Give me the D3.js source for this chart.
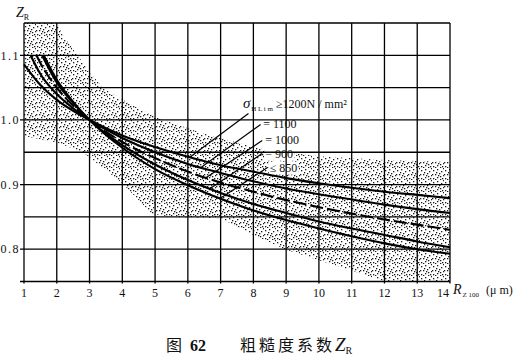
<!DOCTYPE html>
<html>
<head>
<meta charset="utf-8">
<script src="https://cdn.jsdelivr.net/npm/d3@7"></script>
<style>
  body { margin: 0; background: #fff; }
  text { font-family: "Liberation Serif", "DejaVu Serif", serif; fill: #111; }
  .cap { font-family: "Noto Sans CJK SC", sans-serif; }
</style>
</head>
<body>
<div id="chart"></div>
<script>
// data
var xTicks = [1, 2, 3, 4, 5, 6, 7, 8, 9, 10, 11, 12, 13, 14];
var yTicks = [0.8, 0.9, 1.0, 1.1];
var yTickLabels = ["0.8", "0.9", "1.0", "1.1"];
var gridY = [0.75, 0.8, 0.85, 0.9, 0.95, 1.0, 1.05, 1.1, 1.15];

// curves Z_R vs R_Z100, one per sigma_Hlim
var seriesNames = ["1200", "1100", "1000", "900", "850"];
var rz1200 = [1, 1.5, 2, 2.5, 3, 4, 5, 6, 7, 8, 9, 10, 11, 12, 13, 14];
var zr1200 = [1.086, 1.054, 1.031, 1.014, 1.000, 0.976, 0.958, 0.943, 0.930, 0.920, 0.910, 0.902, 0.895, 0.889, 0.884, 0.879];
var rz1100 = [1.2, 1.5, 2, 2.5, 3, 4, 5, 6, 7, 8, 9, 10, 11, 12, 13, 14];
var zr1100 = [1.100, 1.071, 1.040, 1.018, 1.000, 0.972, 0.950, 0.932, 0.918, 0.905, 0.894, 0.885, 0.877, 0.869, 0.862, 0.856];
var rz1000 = [1.38, 1.5, 2, 2.5, 3, 4, 5, 6, 7, 8, 9, 10, 11, 12, 13, 14];
var zr1000 = [1.100, 1.088, 1.050, 1.022, 1.000, 0.966, 0.941, 0.920, 0.903, 0.889, 0.876, 0.865, 0.855, 0.846, 0.838, 0.830];
var rz900 = [1.55, 2, 2.5, 3, 4, 5, 6, 7, 8, 9, 10, 11, 12, 13, 14];
var zr900 = [1.100, 1.058, 1.026, 1.000, 0.961, 0.931, 0.907, 0.887, 0.870, 0.856, 0.843, 0.832, 0.822, 0.812, 0.803];
var rz850 = [1.6, 2, 2.5, 3, 4, 5, 6, 7, 8, 9, 10, 11, 12, 13, 14];
var zr850 = [1.100, 1.062, 1.028, 1.000, 0.957, 0.924, 0.899, 0.878, 0.860, 0.845, 0.832, 0.820, 0.809, 0.800, 0.793];

// scatter band (stippled)
var bandUpperX = [1, 2.0, 2.2, 3.0, 3.4, 4.2, 5.1, 6.4, 7.5, 8.5, 10, 12, 14];
var bandUpperY = [1.15, 1.15, 1.13, 1.075, 1.05, 1.026, 1.003, 0.98, 0.965, 0.953, 0.944, 0.938, 0.935];
var bandLowerX = [1, 2, 2.8, 4, 4.9, 5.5, 7, 8, 9, 10, 11, 12, 14];
var bandLowerY = [0.975, 0.965, 0.95, 0.902, 0.855, 0.85, 0.848, 0.822, 0.799, 0.783, 0.767, 0.75, 0.75];

var labelTexts = ["\u22651200N / mm\u00b2", "= 1100", "= 1000", "= 900", "\u2264 850"];

var W = 529, H = 363;
var x = d3.scaleLinear().domain([1, 14]).range([24, 450]);
var y = d3.scaleLinear().domain([0.75, 1.15]).range([281.5, 23]);

var svg = d3.select("#chart").append("svg")
  .attr("width", W).attr("height", H);

var gBand = svg.append("g"), gBg = svg.append("g"), gGrid = svg.append("g"),
    gCurves = svg.append("g"), gLab = svg.append("g");

// stipple pattern
var defs = svg.append("defs");
var pat = defs.append("pattern").attr("id", "stip")
  .attr("patternUnits", "userSpaceOnUse").attr("width", 12).attr("height", 12);
[[1,2],[5,1],[9,3],[11,7],[3,6],[7,5],[10,10],[1,10],[5,9],[8,11],[3,11],[11,0],[6,7],[0,6],[8,8],[4,4]].forEach(function(p) {
  pat.append("rect").attr("x", p[0]).attr("y", p[1]).attr("width", 1.3).attr("height", 1.3).attr("fill", "#1a1a1a");
});

var upper = bandUpperX.map(function(d, i) { return [d, bandUpperY[i]]; });
var lower = bandLowerX.map(function(d, i) { return [d, bandLowerY[i]]; }).reverse();
var bandLine = d3.line().x(function(d) { return x(d[0]); }).y(function(d) { return y(d[1]); });
gBand.append("path")
  .attr("d", bandLine(upper.concat(lower)) + "Z")
  .attr("fill", "url(#stip)");

// grid
gGrid.selectAll("line.v").data(xTicks).enter().append("line").attr("class", "v")
  .attr("x1", function(d) { return x(d); }).attr("x2", function(d) { return x(d); })
  .attr("y1", y(1.15)).attr("y2", y(0.75) + 2)
  .attr("stroke", "#000").attr("stroke-width", 1.3);
gGrid.selectAll("line.h").data(gridY).enter().append("line").attr("class", "h")
  .attr("x1", function(d) { return yTicks.indexOf(d) >= 0 || d === 0.75 ? x(1) - 4 : x(1); })
  .attr("x2", x(14))
  .attr("y1", function(d) { return y(d); }).attr("y2", function(d) { return y(d); })
  .attr("stroke", "#000").attr("stroke-width", 1.3);

// tick labels
svg.append("g").selectAll("text").data(xTicks).enter().append("text")
  .attr("x", function(d) { return d === 14 ? x(d) - 1 : x(d); }).attr("y", y(0.75) + 15)
  .attr("text-anchor", function(d) { return d === 14 ? "end" : "middle"; })
  .attr("font-size", 12)
  .text(function(d) { return d; });
svg.append("g").selectAll("text").data(yTicks).enter().append("text")
  .attr("x", x(1) - 4).attr("y", function(d) { return y(d); })
  .attr("dy", "0.35em").attr("text-anchor", "end").attr("font-size", 12)
  .attr("letter-spacing", 1.5)
  .text(function(d, i) { return yTickLabels[i]; });

// axis titles
var zt = svg.append("text").attr("x", 16).attr("y", 17).attr("font-size", 14);
zt.append("tspan").attr("font-style", "italic").text("Z");
zt.append("tspan").attr("font-size", 8).attr("dy", 3).text("R");
var rt = svg.append("text").attr("x", 453).attr("y", 294).attr("font-size", 14);
rt.append("tspan").attr("font-style", "italic").text("R");
rt.append("tspan").attr("font-size", 7).attr("dy", 3).attr("dx", 1).text("Z 100");
rt.append("tspan").attr("font-size", 12).attr("dy", -3).attr("dx", 7).text("(\u03bc m)");

// curves
var series = [[rz1200, zr1200], [rz1100, zr1100], [rz1000, zr1000], [rz900, zr900], [rz850, zr850]];
var line = d3.line().x(function(d) { return x(d[0]); }).y(function(d) { return y(d[1]); })
  .curve(d3.curveMonotoneX);
series.forEach(function(s, i) {
  var pts = s[0].map(function(d, j) { return [d, s[1][j]]; });
  gCurves.append("path").attr("d", line(pts))
    .attr("fill", "none").attr("stroke", "#000")
    .attr("stroke-width", 2.1)
    .attr("stroke-dasharray", seriesNames[i] === "1000" ? "13,4" : null);
});

function valueAt(s, v) {
  for (var j = 1; j < s[0].length; j++) {
    if (v <= s[0][j]) {
      var t = (v - s[0][j - 1]) / (s[0][j] - s[0][j - 1]);
      return s[1][j - 1] + t * (s[1][j] - s[1][j - 1]);
    }
  }
  return s[1][s[1].length - 1];
}

// labels and leader lines
var labelAt = [[7.68, 1.018], [8.3, 0.987], [8.36, 0.962], [8.36, 0.9415], [8.5, 0.920]];
var leadFrom = [[7.85, 1.010], [8.22, 0.993], [8.27, 0.968], [8.27, 0.948], [8.42, 0.926]];
var leadTo = [6.06, 6.4, 6.55, 6.67, 6.98];
labelTexts.forEach(function(t, i) {
  var tx = gLab.append("text").attr("x", x(labelAt[i][0])).attr("y", y(labelAt[i][1]))
    .attr("font-size", 12);
  if (i === 0) {
    tx.append("tspan").attr("font-style", "italic").attr("font-size", 15).text("\u03c3");
    tx.append("tspan").attr("font-size", 7).attr("dy", 3).attr("dx", 1).text("H L i m");
    tx.append("tspan").attr("dy", -3).attr("dx", 3).text(t);
  } else {
    tx.text(t);
  }
  // white ground under the label so the stipple does not run through it
  var b = tx.node().getBBox();
  gBg.append("rect").attr("x", b.x - 1).attr("y", b.y + 1)
    .attr("width", b.width + 2).attr("height", b.height - 1).attr("fill", "#fff");
});
series.forEach(function(s, i) {
  gCurves.append("line")
    .attr("x1", x(leadFrom[i][0])).attr("y1", y(leadFrom[i][1]))
    .attr("x2", x(leadTo[i])).attr("y2", y(valueAt(s, leadTo[i])))
    .attr("stroke", "#000").attr("stroke-width", 1.2);
});

// caption
var cap = svg.append("text").attr("class", "cap").attr("y", 351).attr("font-size", 16);
cap.append("tspan").attr("x", 166).text("\u56fe");
cap.append("tspan").attr("x", 190).attr("font-family", "Liberation Serif").attr("font-weight", "bold").text("62");
cap.append("tspan").attr("x", 240).attr("letter-spacing", 3).text("\u7c97\u7cd9\u5ea6\u7cfb\u6570");
cap.append("tspan").attr("x", 335).attr("font-family", "Liberation Serif").attr("font-style", "italic").attr("font-size", 19).text("Z");
cap.append("tspan").attr("font-family", "Liberation Serif").attr("font-size", 10).attr("dy", 3).text("R");
</script>
</body>
</html>
